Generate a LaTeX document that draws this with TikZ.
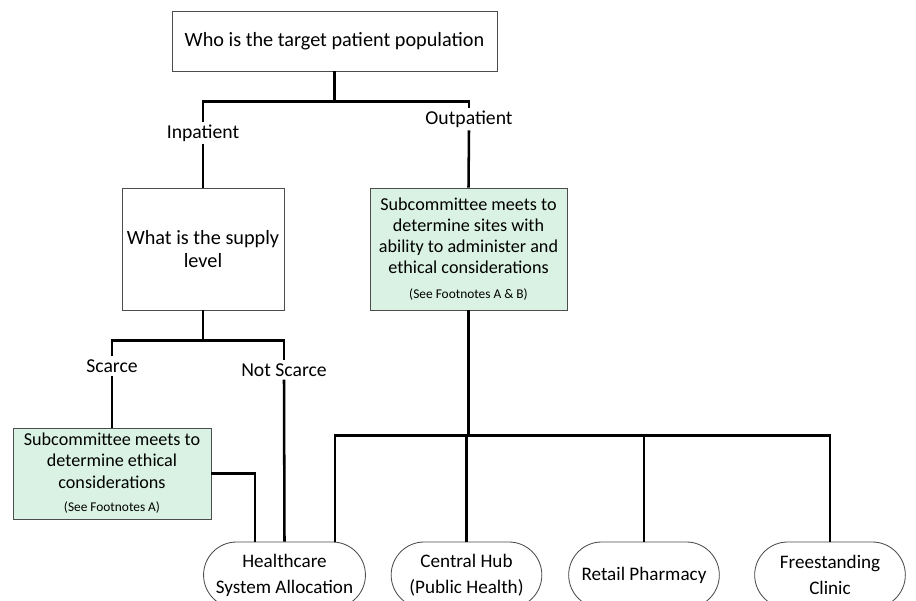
\documentclass[tikz,border=0pt]{standalone}
\usepackage{fontspec}
\setmainfont{Carlito}
\usetikzlibrary{positioning,calc,shapes.misc}
\definecolor{mint}{HTML}{D9F2E3}
\newcommand{\fotnote}[1]{{\fontsize{9.5}{11}\selectfont #1}}
\tikzset{
  %Define style for boxes
  boks/.style={
    rectangle,
    draw=black!70, line width=0.6pt,
    align=center,
    font=\fontsize{14.4}{17}\selectfont},
  %Define style for green boxes
  gronn/.style={
    boks,
    fill=mint,
    font=\fontsize{12.9}{15}\selectfont},
  %Define style for end nodes
  slutt/.style={
    rounded rectangle,
    draw=black!70, line width=0.6pt,
    minimum width=4cm, minimum height=1.65cm,
    align=center,
    font=\fontsize{13.6}{18.4}\selectfont},
  %Define style for branch labels
  merke/.style={
    font=\fontsize{14}{16}\selectfont,
    inner sep=2pt},
  % Define line style
  linje/.style={
    line width=1.8pt}
}

\begin{document}
\begin{tikzpicture}[x=0.025cm,y=-0.025cm]
  \useasboundingbox (0,0) rectangle (916,600);
  \fill[white] (0,0) rectangle (916,600);
  \clip (0,0) rectangle (916,600);
  % boxes
  \node[boks, minimum width=8.125cm, minimum height=1.5cm] (pop) at (334.5,41) {Who is the target patient population};
  \node[boks, minimum width=4.05cm, minimum height=3.05cm] (supply) at (203,249) {What is the supply\\level};
  \node[gronn, minimum width=4.925cm, minimum height=3.05cm] (sites) at (468.5,249)
    {Subcommittee meets to\\determine sites with\\ability to administer and\\ethical considerations\\[3pt]\fotnote{(See Footnotes A \& B)}};
  \node[gronn, minimum width=4.95cm, minimum height=2.275cm] (ethics) at (112,473.5)
    {Subcommittee meets to\\determine ethical\\considerations\\[2pt]\fotnote{(See Footnotes A)}};
  % end points
  \node[slutt] (hsa) at (284.5,575) {Healthcare\\System Allocation};
  \node[slutt] (hub) at (466.5,575) {Central Hub\\(Public Health)};
  \node[slutt] (retail) at (644,575) {Retail Pharmacy};
  \node[slutt] (clinic) at (830,575) {Freestanding\\Clinic};
  % labels
  \node[merke] (inpat) at (203,133) {Inpatient};
  \node[merke] (outpat) at (469,119) {Outpatient};
  \node[merke] (scarce) at (112,366) {Scarce};
  \node[merke] (notscarce) at (284,370) {Not Scarce};
  % lines
  \draw[linje] (pop.south) -- ++(0,30) coordinate (split)
    (inpat.north) |- (split) -| (outpat.north);
  \draw[linje] (inpat.south) -- (supply.north);
  \draw[linje] (outpat.south) -- (sites.north);
  \draw[linje] (supply.south) -- ++(0,30) coordinate (split2)
    (scarce.north) |- (split2) -| (notscarce.north);
  \draw[linje] (scarce.south) -- (ethics.north);
  \draw[linje] (notscarce.south) -- (hsa.north);
  \draw[linje] (ethics.east) -| ($(hsa.north)+(-29.5,0)$);
  \draw[linje] (sites.south) -- ++(0,125) coordinate (bus);
  \draw[linje] ($(hsa.north)+(50.5,0)$) |- (bus) -| (clinic.north);
  \draw[linje] (hub.north |- bus) -- (hub.north);
  \draw[linje] (retail.north |- bus) -- (retail.north);
\end{tikzpicture}
\end{document}
